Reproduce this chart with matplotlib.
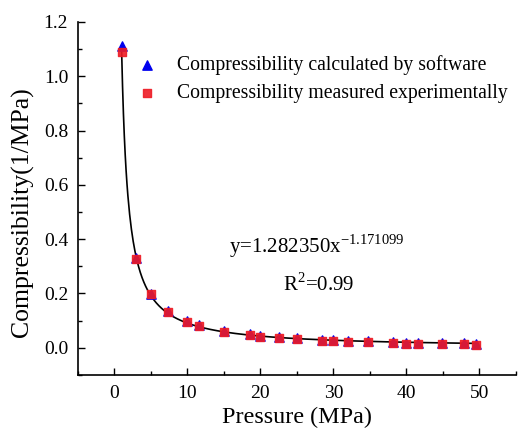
import numpy as np
import matplotlib
matplotlib.use("Agg")
import matplotlib.pyplot as plt
from matplotlib.ticker import MultipleLocator

plt.rcParams['font.family'] = ['Liberation Serif', 'DejaVu Serif']
plt.rcParams['mathtext.fontset'] = 'custom'
plt.rcParams['mathtext.rm'] = 'Liberation Serif'

# pressure (MPa)
pressure = [1.0, 3.0, 5.0, 7.4, 10.0, 11.6, 15.0, 18.6, 20.0, 22.5, 25.0,
            28.4, 30.0, 32.0, 34.8, 38.1, 39.9, 41.6, 44.9, 47.9, 49.5]
# compressibility from software (1/MPa)
comp_software = [1.11, 0.33, 0.199, 0.134, 0.098, 0.083, 0.062, 0.049, 0.044,
                 0.038, 0.035, 0.029, 0.028, 0.025, 0.024, 0.020, 0.019,
                 0.019, 0.017, 0.016, 0.013]
# compressibility measured (1/MPa)
comp_measured = [1.09, 0.328, 0.197, 0.131, 0.096, 0.080, 0.059, 0.047, 0.041,
                 0.035, 0.032, 0.026, 0.025, 0.022, 0.021, 0.017, 0.015,
                 0.015, 0.014, 0.013, 0.010]

fig = plt.figure(figsize=(5.19, 4.29), dpi=100)
ax = fig.add_axes([0.150, 0.126, 0.844, 0.823])

# power fit through the measured points (weighted so it follows the large values)
b, a = np.polyfit(np.log(pressure), np.log(comp_measured), 1, w=comp_measured)
xf = np.linspace(pressure[0], pressure[-1], 400)
ax.plot(xf, np.exp(a) * xf ** b, color='black', lw=1.2, zorder=2)

ax.scatter(pressure, comp_software, marker='^', s=45, color='#0000ee',
           label='Compressibility calculated by software', zorder=3)
ax.scatter(pressure, comp_measured, marker='s', s=32, color='#ee1c25',
           alpha=0.9, label='Compressibility measured experimentally', zorder=4)

ax.set_xlim(-5, 55)
ax.set_ylim(-0.1, 1.2)
ax.xaxis.set_minor_locator(MultipleLocator(5))
ax.yaxis.set_minor_locator(MultipleLocator(0.1))
ax.set_xticks([0, 10, 20, 30, 40, 50])
ax.set_yticks([0.0, 0.2, 0.4, 0.6, 0.8, 1.0, 1.2])
ax.yaxis.set_major_formatter(plt.FormatStrFormatter('%.1f'))
ax.tick_params(which='both', direction='in', labelsize=14, width=1.0)
ax.tick_params(which='major', length=5)
ax.tick_params(which='minor', length=3)
ax.tick_params(axis='x', pad=7)
ax.tick_params(axis='y', pad=7)
ax.spines['top'].set_visible(False)
ax.spines['right'].set_visible(False)
for s in ('left', 'bottom'):
    ax.spines[s].set_linewidth(1.2)

ax.set_xlabel('Pressure (MPa)', fontsize=17.4, labelpad=4)
ax.set_ylabel('Compressibility(1/MPa)', fontsize=18.5)
ax.yaxis.set_label_coords(-0.10, 0.46)

ax.text(27.8, 0.374, r'y=1.282350x$^{\mathregular{-1.171099}}$', fontsize=15,
        ha='center', va='center')
ax.text(28.0, 0.233, r'R$^{\mathregular{2}}$=0.99', fontsize=15,
        ha='center', va='center')

ax.legend(loc='upper left', bbox_to_anchor=(0.073, 0.955), frameon=False,
          fontsize=14.2, handletextpad=0.5, labelspacing=0.42, markerscale=1.0)

fig.savefig('out.png', dpi=100)
